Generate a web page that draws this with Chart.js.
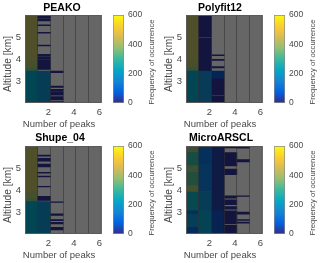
<!DOCTYPE html>
<html>
<head>
<meta charset="utf-8">
<title>Number of peaks</title>
<script src="https://cdn.jsdelivr.net/npm/chart.js@4"></script>
<style>
html, body { margin: 0; padding: 0; background: #fff; overflow: hidden; }
canvas { position: absolute; filter: blur(0.35px); }
</style>
</head>
<body>
<script>
// every cell run is [top km, bottom km, frequency], cells left out have no occurrences (grey)
var peakoCol1 = [[6, 3.9, 420], [3.9, 3.6, 400], [3.6, 3.45, 360], [3.45, 2, 225]];
var peakoCol2 = [[5.97, 5.85, 10], [5.8, 5.73, 10], [5.55, 5.52, 10], [5.21, 5.17, 10], [4.63, 4.6, 10],
    [4.21, 4.15, 10], [4.11, 3.98, 10], [3.95, 3.53, 10], [3.45, 2, 170]];
var peakoCol3 = [[3.45, 3.38, 10], [2.77, 2.71, 10], [2.62, 2.55, 10], [2.52, 2.42, 10], [2.4, 2.36, 10],
    [2.29, 2.14, 10], [2.06, 2, 10]];

var polyCol1 = [[6, 3.9, 420], [3.9, 3.6, 400], [3.6, 3.45, 360], [3.45, 2, 225]];
var polyCol2 = [[6, 5, 10], [4.96, 3.45, 10], [3.45, 2, 165]];
var polyCol3 = [[4.19, 4.15, 15], [3.98, 3.94, 15], [3.65, 3.6, 15], [3.45, 3.1, 60], [3.1, 2.37, 12],
    [2.33, 2.24, 12], [2.22, 2.15, 12], [2.13, 2, 12]];

var shupeCol1 = [[6, 3.9, 420], [3.9, 3.6, 400], [3.6, 3.47, 360], [3.47, 2, 225]];
var shupeCol2 = [[5.59, 5.54, 10], [5.44, 5.31, 10], [5.18, 5.05, 10], [4.8, 4.77, 10], [4.63, 4.6, 10],
    [4.17, 4.14, 10], [3.71, 3.53, 10], [3.47, 2, 170]];
var shupeCol3 = [[3.46, 3.43, 10], [2.92, 2.84, 10], [2.66, 2.61, 10], [2.53, 2.46, 10], [2.3, 2.18, 10]];

var microCol1 = [[6, 5.7, 370], [5.7, 5.1, 290], [5.1, 4.8, 370], [4.8, 4.2, 320], [4.2, 3.9, 390],
    [3.9, 3.05, 245], [3.05, 2.9, 100], [2.9, 2.3, 180], [2.3, 2, 90]];
var microCol2 = [[6, 5.15, 110], [5.15, 3.93, 130], [3.93, 3.05, 170], [3.05, 2, 210]];
var microCol3 = [[6, 3.05, 25], [3.05, 2, 50]];
var microCol4 = [[6, 5.91, 10], [5.7, 5.1, 10], [4.95, 4.7, 10], [3.74, 3.63, 10], [3.55, 3.33, 10],
    [3.25, 3.13, 10], [3.05, 2.47, 10], [2.4, 2, 10]];
var microCol5 = [[5.98, 5.9, 10], [5.38, 5.28, 10], [3.74, 3.71, 10], [3.0, 2.9, 10], [2.65, 2.62, 10], [2.54, 2.49, 10]];

var xTicks = [2, 4, 6];
var yTicks = [3, 4, 5];
var barTicks = [0, 200, 400, 600];
var freqStops = [0, 75, 150, 225, 300, 375, 450, 525, 600];
var freqColors = [[53, 42, 135], [3, 99, 225], [20, 133, 212], [6, 167, 198], [56, 185, 158],
    [146, 191, 115], [217, 186, 86], [252, 206, 46], [249, 251, 14]];

var CELL_SHADE = 0.42;   // cells look darker than the colorbar

function freqColor(v)
{
    let i = 0;
    while (i < freqStops.length - 2 && v > freqStops[i + 1]) i++;
    let t = (v - freqStops[i]) / (freqStops[i + 1] - freqStops[i]);
    let c = freqColors[i].map((a, k) => Math.round((a + (freqColors[i + 1][k] - a) * t) * CELL_SHADE));
    return 'rgb(' + c.join(',') + ')';
}

function makeCanvas(left, top, w, h)
{
    let c = document.createElement('canvas');
    c.width = w;
    c.height = h;
    c.style.left = left + 'px';
    c.style.top = top + 'px';
    c.style.width = w + 'px';
    c.style.height = h + 'px';
    document.body.appendChild(c);
    return c;
}

// draws rotated / offset labels that the library can only centre on the axes
var textPlugin = {
    id: 'panelText',
    afterDraw(chart, args, opts) {
        let ctx = chart.ctx;
        opts.items.forEach(t => {
            ctx.save();
            ctx.translate(t.x, t.y);
            ctx.rotate((t.rot || 0) * Math.PI / 180);
            ctx.font = t.font;
            ctx.fillStyle = t.color;
            ctx.textAlign = 'center';
            ctx.textBaseline = 'middle';
            ctx.fillText(t.text, 0, 0);
            ctx.restore();
        });
    }
};

var greyPlugin = {
    id: 'greyBack',
    beforeDatasetsDraw(chart) {
        let a = chart.chartArea;
        chart.ctx.fillStyle = '#666666';
        chart.ctx.fillRect(a.left, a.top, a.width, a.height);
    },
    afterDraw(chart) {
        let a = chart.chartArea;
        chart.ctx.strokeStyle = '#5a5a5a';
        chart.ctx.lineWidth = 1;
        chart.ctx.strokeRect(a.left + 0.5, a.top + 0.5, a.width - 1, a.height - 1);
    }
};

function drawPanel(title, columns, left, top, titleX, titleY)
{
    let cells = [];
    let colors = [];
    columns.forEach((col, i) => {
        col.forEach(r => {
            cells.push({x: i + 0.5, y: [r[1], r[0]]});
            colors.push(freqColor(r[2]));
        });
    });

    new Chart(makeCanvas(left, top, 108, 132), {
        type: 'bar',
        data: {
            datasets: [{
                data: cells,
                backgroundColor: colors,
                borderWidth: 0,
                barPercentage: 1,
                categoryPercentage: 1,
            }]
        },
        plugins: [greyPlugin, textPlugin],
        options: {
            responsive: false,
            animation: false,
            layout: {padding: {top: 15, right: 5}},
            scales: {
                x: {
                    type: 'linear',
                    offset: false,
                    min: 0,
                    max: 6,
                    afterFit: s => { s.height = 29; },
                    grid: {z: 1, offset: false, color: 'rgba(50,50,50,0.55)', drawTicks: false},
                    border: {display: false},
                    ticks: {
                        stepSize: 1,
                        autoSkip: false,
                        maxRotation: 0,
                        padding: 4,
                        labelOffset: -2,
                        color: '#484848',
                        font: {family: 'Liberation Sans', size: 9.5},
                        callback: v => xTicks.includes(v) ? v : '',
                    },
                },
                y: {
                    min: 2,
                    max: 6,
                    afterFit: s => { s.width = 25; },
                    grid: {display: false, drawTicks: false},
                    border: {display: false},
                    ticks: {
                        stepSize: 1,
                        padding: 4,
                        color: '#484848',
                        font: {family: 'Liberation Sans', size: 9.5},
                        callback: v => yTicks.includes(v) ? v : '',
                    },
                },
            },
            plugins: {
                legend: {display: false},
                tooltip: {enabled: false},
                panelText: {items: [
                    {text: title, x: titleX, y: titleY, font: 'bold 10.5px "Liberation Sans"', color: '#000000'},
                    {text: 'Number of peaks', x: 59, y: 124, font: '9.5px "Liberation Sans"', color: '#484848'},
                    {text: 'Altitude [km]', x: 8, y: 64, rot: -90, font: '10.2px "Liberation Sans"', color: '#484848'},
                ]},
            },
        },
    });
}

function drawColorbar(left, top)
{
    new Chart(makeCanvas(left, top, 52, 132), {
        type: 'bar',
        data: {
            labels: [''],
            datasets: [{
                data: [[barTicks[0], barTicks[barTicks.length - 1]]],
                backgroundColor: (c) => {
                    let a = c.chart.chartArea;
                    if (!a) return '#000000';
                    let g = c.chart.ctx.createLinearGradient(0, a.bottom, 0, a.top);
                    freqStops.forEach((s, i) => {
                        g.addColorStop(s / 600, 'rgb(' + freqColors[i].join(',') + ')');
                    });
                    return g;
                },
                borderColor: '#8a8a8a',
                borderWidth: 1,
                borderSkipped: false,
                barPercentage: 1,
                categoryPercentage: 1,
            }]
        },
        plugins: [textPlugin],
        options: {
            responsive: false,
            animation: false,
            layout: {padding: {top: 15, left: 5, bottom: 29}},
            scales: {
                x: {display: false},
                y: {
                    position: 'right',
                    min: 0,
                    max: 600,
                    afterFit: s => { s.width = 36; },
                    grid: {display: false, drawTicks: false},
                    border: {display: false},
                    ticks: {
                        stepSize: 200,
                        padding: 4,
                        color: '#484848',
                        font: {family: 'Liberation Sans', size: 8.5},
                    },
                },
            },
            plugins: {
                legend: {display: false},
                tooltip: {enabled: false},
                panelText: {items: [
                    {text: 'Frequency of occurrence', x: 44, y: 62, rot: -90, font: '7.7px "Liberation Sans"', color: '#484848'},
                ]},
            },
        },
    });
}

drawPanel('PEAKO', [peakoCol1, peakoCol2, peakoCol3], 0, 0, 62, 8);
drawPanel('Polyfit12', [polyCol1, polyCol2, polyCol3], 161, 0, 59, 8);
drawPanel('Shupe_04', [shupeCol1, shupeCol2, shupeCol3], 0, 131, 60, 7);
drawPanel('MicroARSCL', [microCol1, microCol2, microCol3, microCol4, microCol5], 161, 131, 60, 7);
drawColorbar(108, 0);
drawColorbar(269, 0);
drawColorbar(108, 131);
drawColorbar(269, 131);
</script>
</body>
</html>
